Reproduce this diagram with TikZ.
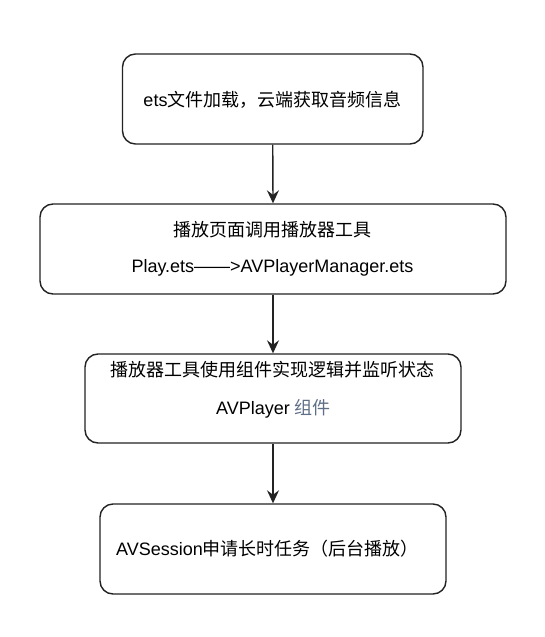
\documentclass[tikz,border=0pt]{standalone}
\usepackage{fontspec}
\setmainfont{Liberation Sans}
\newfontfamily\cjk{Noto Sans CJK SC}
\usetikzlibrary{arrows.meta}
\definecolor{linec}{RGB}{35,35,35}
\definecolor{bluegray}{RGB}{95,110,135}
\begin{document}
\begin{tikzpicture}[x=1pt,y=-1pt,
  box/.style={draw=linec,line width=1.4pt,rounded corners=13pt,fill=white,inner sep=0pt},
  lbl/.style={inner sep=0pt,font=\fontsize{18}{22}\selectfont,text=black,anchor=center},
  conn/.style={draw=linec,line width=1.4pt,-{Stealth[length=13pt,width=12pt,inset=4.5pt]}}]
\useasboundingbox[fill=white] (0,0) rectangle (545,637);
\node[box,minimum width=300.5pt,minimum height=90pt] (b1) at (272.75,99) {};
\node[box,minimum width=466pt,minimum height=90pt] (b2) at (273,249) {};
\node[box,minimum width=376pt,minimum height=89pt] (b3) at (273,398.5) {};
\node[box,minimum width=346pt,minimum height=90pt] (b4) at (273,549) {};
\node[lbl] (t1) at (272.5,100) {ets{\cjk 文件加载，云端获取音频信息}};
\node[lbl] (t2a) at (272.5,229.5) {\cjk 播放页面调用播放器工具};
\node[lbl] (t2b) at (272.5,268) {Play.ets——>AVPlayerManager.ets};
\node[lbl] (t3a) at (272,370) {\cjk 播放器工具使用组件实现逻辑并监听状态};
\node[lbl] (t3b) at (273.5,408.5) {AVPlayer {\cjk\color{bluegray}组件}};
\node[lbl] (t4) at (267.5,549) {AVSession{\cjk 申请长时任务（后台播放）}};
\draw[conn] (b1.south) -- (b2.north);
\draw[conn] (b2.south) -- (b3.north);
\draw[conn] (b3.south) -- (b4.north);
\end{tikzpicture}
\end{document}
